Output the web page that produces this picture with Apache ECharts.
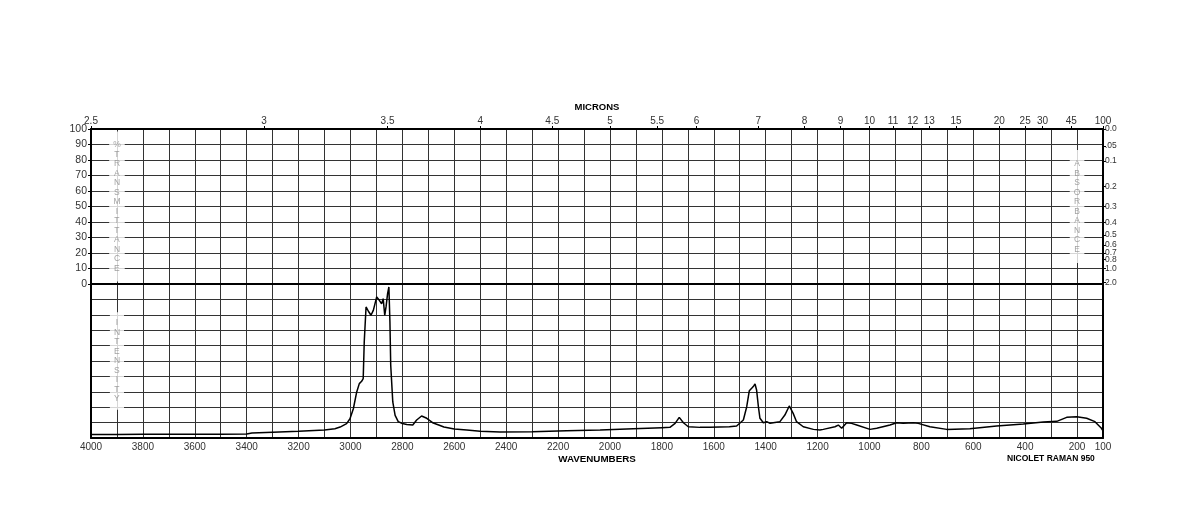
<!DOCTYPE html>
<html>
<head>
<meta charset="utf-8">
<script src="https://cdn.jsdelivr.net/npm/echarts@6/dist/echarts.min.js"></script>
<style>
html,body{margin:0;padding:0;background:#fff;}
#chart{width:1200px;height:518px;}
</style>
</head>
<body>
<div id="chart"></div>
<script>
// ---- data ----
var wavenumbers = [4000,3900,3800,3700,3600,3500,3400,3380,3300,3200,3100,3060,3040,3015,3002,2989,2976,2966,2957,2951,2947,2940,2931,2921,2912,2899,2889,2880,2874,2868,2863,2857,2852,2848,2845,2837,2828,2816,2800,2783,2760,2745,2726,2706,2681,2660,2640,2600,2552,2500,2424,2300,2167,2038,1910,1800,1769,1749,1733,1717,1698,1653,1615,1540,1512,1486,1473,1463,1454,1446,1441,1435,1428,1422,1409,1396,1383,1371,1345,1326,1309,1302,1294,1281,1255,1216,1191,1178,1133,1120,1107,1088,1069,1049,998,972,921,895,870,831,812,767,702,613,510,407,330,278,240,201,163,131,106,100];
var intensity = [2.3,2.3,2.4,2.4,2.4,2.5,2.6,3.2,3.7,4.4,5.2,6.0,7.1,9.3,12.5,19.0,29.9,35.3,36.8,38.5,62.3,85.1,82.3,79.7,82.9,91.6,89.4,87.2,90.5,79.7,85.1,93.7,98.1,75.3,47.4,23.4,14.7,10.6,9.4,8.8,8.4,11.7,14.3,12.8,9.7,8.4,7.1,5.8,5.2,4.4,3.9,4.1,4.7,5.2,6.0,6.7,6.9,9.5,13.4,9.9,7.3,6.9,6.9,7.3,7.8,11.7,20.3,30.7,32.3,33.8,35.1,31.2,20.3,12.8,9.9,10.6,9.5,9.9,10.6,14.9,20.8,21.4,16.0,10.6,7.3,5.6,5.2,5.6,7.3,8.4,6.3,9.9,9.5,8.4,5.6,6.3,8.4,9.9,9.5,9.9,9.5,7.3,5.6,6.0,7.8,9.1,10.4,10.8,13.4,13.8,12.8,10.6,6.3,4.7];
var micronTicks = [2.5,3,3.5,4,4.5,5,5.5,6,7,8,9,10,11,12,13,15,20,25,30,45,100];
var absorbanceTicks = [0,0.05,0.1,0.2,0.3,0.4,0.5,0.6,0.7,0.8,1.0,2.0];
var absorbanceLabels = ['0.0','.05','0.1','0.2','0.3','0.4','0.5','0.6','0.7','0.8','1.0','2.0'];

// ---- derived ----
var micronWn = micronTicks.map(function(m){return 10000/m;});
var absT = absorbanceTicks.map(function(a){return 100*Math.pow(10,-a);});
var spectrum = wavenumbers.map(function(w,i){return [w,intensity[i]];});
function nearestIdx(arr,v){var b=0,d=Infinity;arr.forEach(function(x,i){var e=Math.abs(x-v);if(e<d){d=e;b=i;}});return b;}

var FONT = 'Liberation Sans';
var GRID_COLOR = '#333';
var chart = echarts.init(document.getElementById('chart'));
var gridSplit = {show:true, lineStyle:{color:GRID_COLOR, width:1}};
var border = {show:true, onZero:false, lineStyle:{color:'#000', width:2}};
var vLabel = {show:true, position:'inside', fontFamily:FONT, fontSize:8.5, lineHeight:9.5, color:'#8c8c8c',
              backgroundColor:'#fff', align:'center'};

chart.setOption({
  animation:false,
  backgroundColor:'#fff',
  title:{
    text:'NICOLET RAMAN 950', left:1002, top:449,
    textStyle:{fontFamily:FONT, fontSize:8.5, fontWeight:'bold', color:'#000'}
  },
  grid:[
    {left:91, right:97, top:129, height:155},
    {left:91, right:97, top:284, height:154}
  ],
  xAxis:[
    {gridIndex:0, type:'value', position:'top', min:100, max:4000, inverse:true,
     name:'MICRONS', nameLocation:'middle', nameGap:17,
     nameTextStyle:{fontFamily:FONT, fontSize:9.5, fontWeight:'bold', color:'#000'},
     axisLine:border,
     axisTick:{show:true, inside:false, customValues:micronWn, length:3, lineStyle:{color:'#000'}},
     axisLabel:{customValues:micronWn, margin:3, fontFamily:FONT, fontSize:10, color:'#333',
       formatter:function(v){return String(micronTicks[nearestIdx(micronWn,v)]);}},
     splitLine:{show:false}},
    {gridIndex:0, type:'value', position:'bottom', min:100, max:4000, interval:100, inverse:true,
     axisLine:border, axisTick:{show:false}, axisLabel:{show:false}, splitLine:gridSplit},
    {gridIndex:1, type:'value', position:'bottom', min:100, max:4000, interval:100, inverse:true,
     name:'WAVENUMBERS', nameLocation:'middle', nameGap:16,
     nameTextStyle:{fontFamily:FONT, fontSize:9.8, fontWeight:'bold', color:'#000'},
     axisLine:border, axisTick:{show:false},
     axisLabel:{interval:0, margin:4, fontFamily:FONT, fontSize:10, color:'#333',
       formatter:function(v){return (v%200===0||v===100)?String(v):'';}},
     splitLine:gridSplit}
  ],
  yAxis:[
    {gridIndex:0, type:'value', position:'left', min:0, max:100, interval:10,
     axisLine:border, axisTick:{show:true, length:3, lineStyle:{color:'#000'}},
     axisLabel:{margin:4, fontFamily:FONT, fontSize:10.5, color:'#333'},
     splitLine:gridSplit},
    {gridIndex:0, type:'value', position:'right', min:0, max:100,
     axisLine:border,
     axisTick:{show:true, customValues:absT, length:3, lineStyle:{color:'#000'}},
     axisLabel:{customValues:absT, margin:2, fontFamily:FONT, fontSize:8.5, color:'#333',
       formatter:function(v){return absorbanceLabels[nearestIdx(absT,v)];}},
     splitLine:{show:false}},
    {gridIndex:1, type:'value', position:'left', min:0, max:100, interval:10,
     axisLine:border, axisTick:{show:false}, axisLabel:{show:false}, splitLine:gridSplit},
    {gridIndex:1, type:'value', position:'right', min:0, max:100, interval:10,
     axisLine:border, axisTick:{show:false}, axisLabel:{show:false}, splitLine:{show:false}}
  ],
  series:[
    {type:'line', xAxisIndex:2, yAxisIndex:2, data:spectrum, showSymbol:false, symbol:'none',
     lineStyle:{color:'#000', width:1.5}, z:5},
    {type:'scatter', xAxisIndex:1, yAxisIndex:0, symbolSize:0, silent:true, z:6,
     data:[{value:[3900,50], label:{formatter:'%\nT\nR\nA\nN\nS\nM\nI\nT\nT\nA\nN\nC\nE', padding:[7,4,10,4]}},
           {value:[200,50], label:{formatter:'A\nB\nS\nO\nR\nB\nA\nN\nC\nE', padding:[9,4,9,4]}}],
     label:vLabel},
    {type:'scatter', xAxisIndex:2, yAxisIndex:2, symbolSize:0, silent:true, z:6,
     data:[{value:[3900,50], label:{formatter:'I\nN\nT\nE\nN\nS\nI\nT\nY', padding:[6,4,6,4]}}],
     label:vLabel}
  ]
});
</script>
</body>
</html>
